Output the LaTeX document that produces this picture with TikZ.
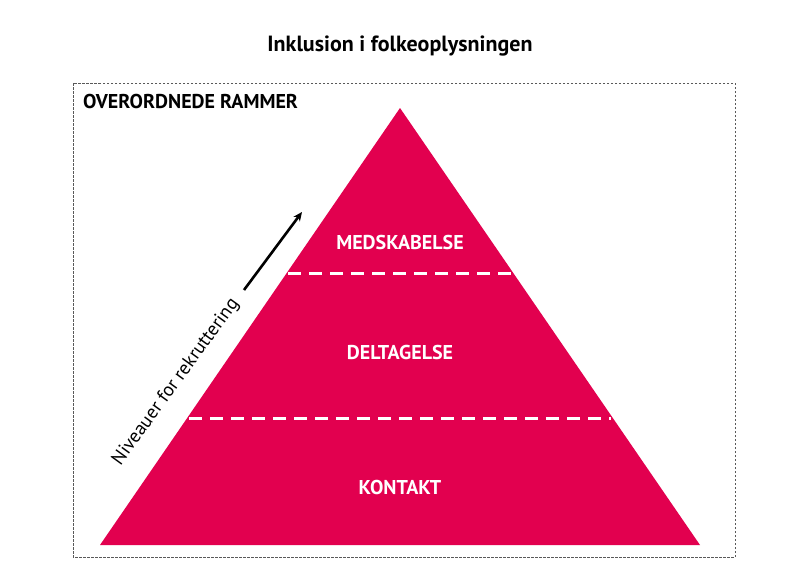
\documentclass[tikz,border=0pt]{standalone}
\usepackage{fontspec}
\setmainfont{PT Sans}
\usetikzlibrary{arrows.meta}
\definecolor{pyr}{HTML}{E2004F}
\tikzset{lvl/.style={text=white,font=\bfseries\fontsize{20}{22}\selectfont},
 sep/.style={white,line width=3pt,dash pattern=on 13pt off 8pt}}
\begin{document}
\begin{tikzpicture}[x=1pt,y=-1pt]
\useasboundingbox[fill=white] (0,0) rectangle (800,565);
\node[font=\bfseries\fontsize{22}{24}\selectfont] (title) at (400,46) {Inklusion i folkeoplysningen};
\draw[gray!70!black,line width=0.7pt,dash pattern=on 2.5pt off 1.5pt] (73,83) rectangle (735,557);
\node[anchor=west,inner sep=0pt,font=\bfseries\fontsize{20}{22}\selectfont] (frame) at (83,101) {OVERORDNEDE RAMMER};
\fill[pyr] (400,108) -- (700,545) -- (100,545) -- cycle;
\coordinate (s1a) at (288,273); \coordinate (s1b) at (512,273);
\coordinate (s2a) at (189,418); \coordinate (s2b) at (611,418);
\draw[sep] (s1a) -- (s1b);
\draw[sep] (s2a) -- (s2b);
\node[lvl] (m) at (400,242) {MEDSKABELSE};
\node[lvl] (d) at (400,352) {DELTAGELSE};
\node[lvl] (k) at (400,487) {KONTAKT};
\coordinate (a1) at (244,290); \coordinate (a2) at (302,212);
\draw[line width=2.6pt,-{Stealth[length=9pt,width=8pt]}] (a1) -- (a2);
\node[rotate=54,font=\fontsize{19}{21}\selectfont] (niv) at (176,382) {Niveauer for rekruttering};
\end{tikzpicture}
\end{document}
